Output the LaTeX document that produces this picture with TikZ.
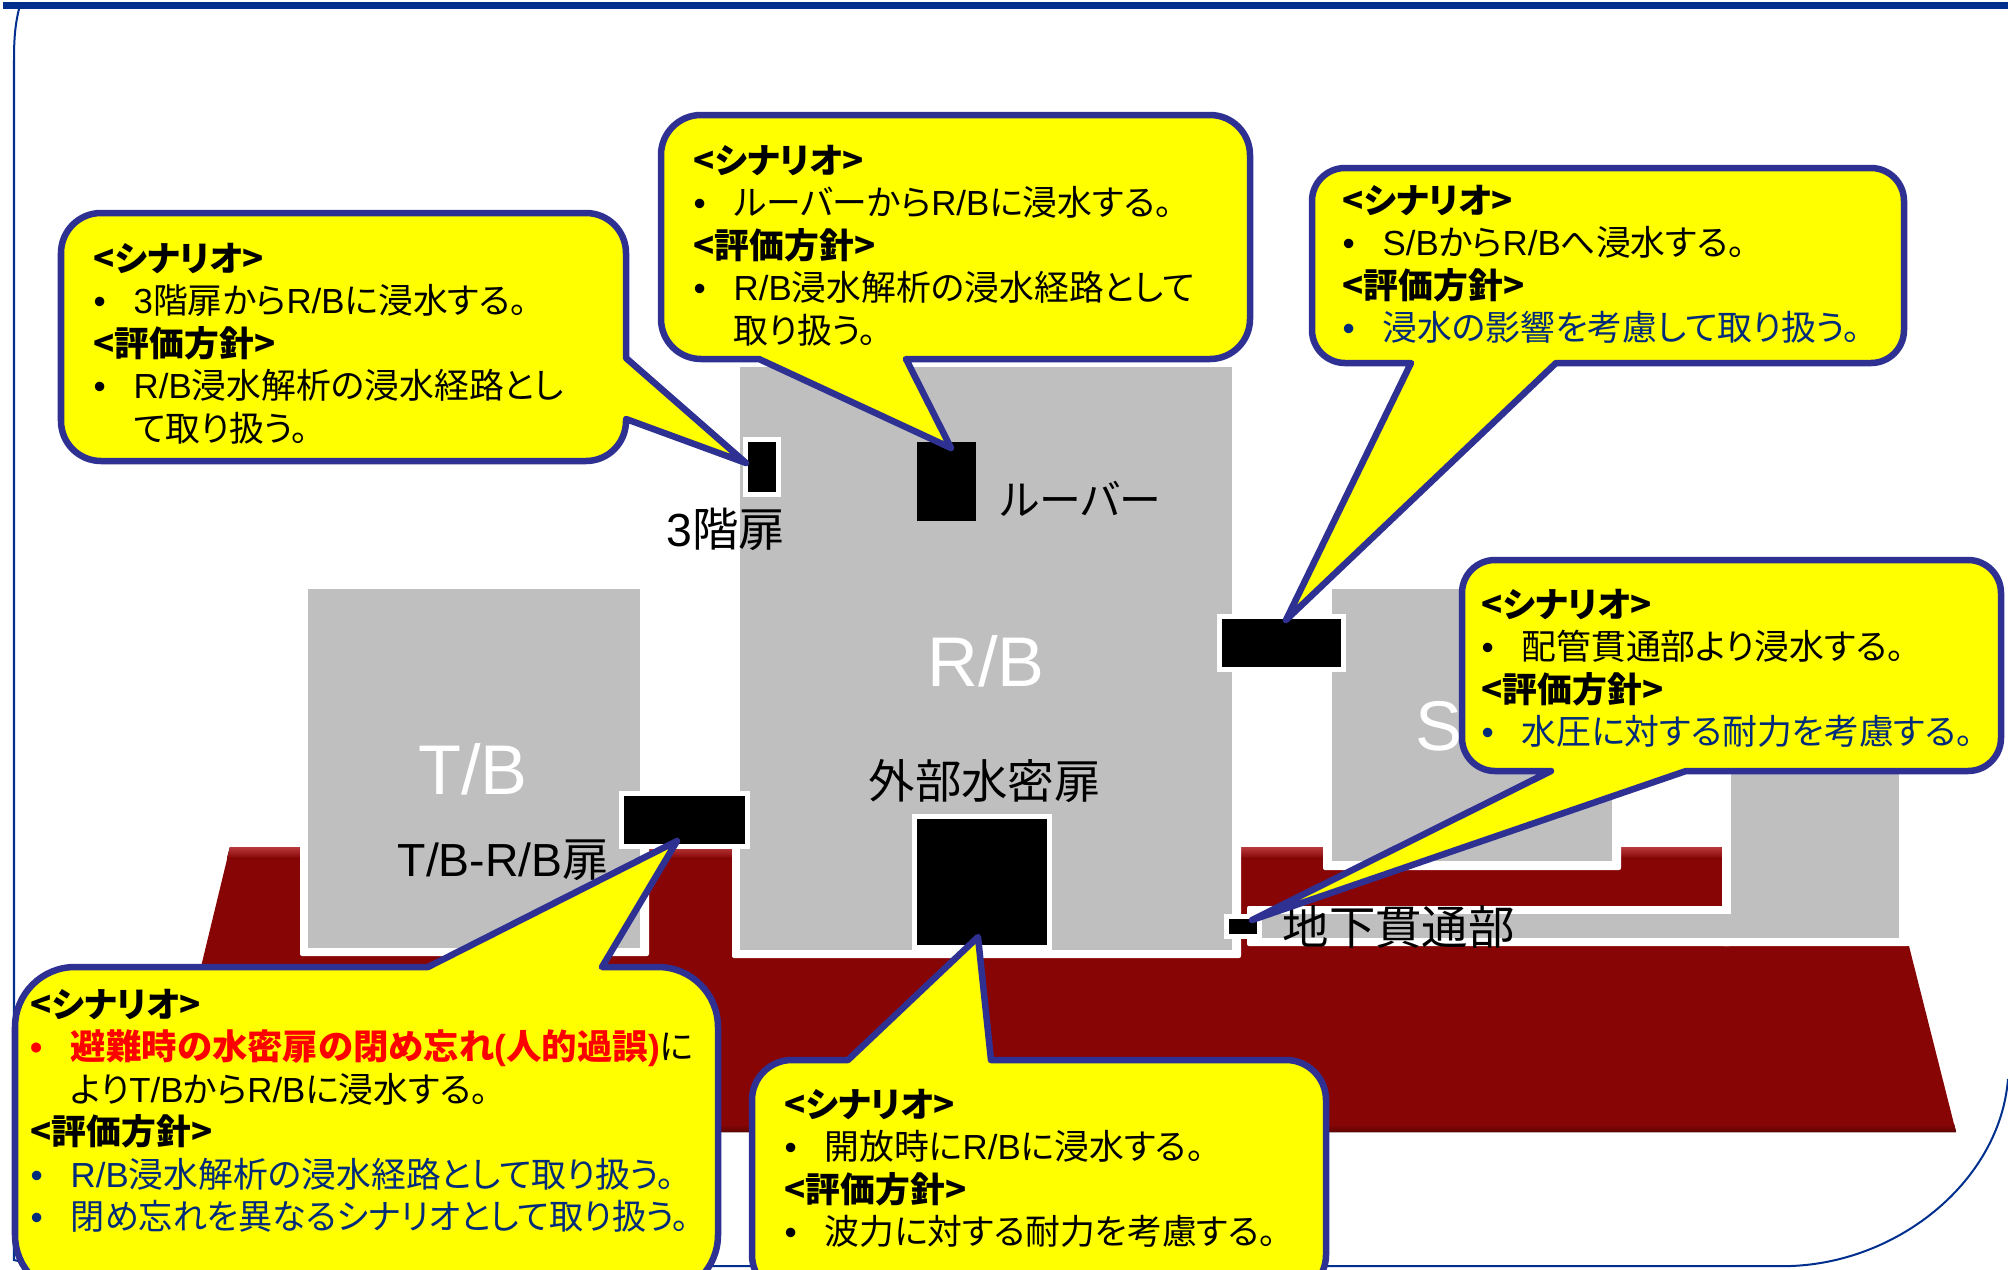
\documentclass[tikz,border=0pt]{standalone}
\usepackage{fontspec}
\setmainfont[RawFeature={+palt}]{Noto Sans CJK JP}
\newfontfamily\latfont{Liberation Sans}
\newcommand{\lat}[1]{{\latfont #1}}
\newcommand{\hdr}[1]{\strut\textbf{#1}}
\newcommand{\itm}{\makebox[0.4cm][l]{\lat{•}}}
\newcommand{\cnt}{\hspace*{0.4cm}}
\newcommand{\calltxtfont}{\fontsize{9.9pt}{12.06pt}\selectfont\lineskiplimit=-10pt\relax}
\definecolor{framecol}{HTML}{002F8E}
\definecolor{basecol}{HTML}{880505}
\definecolor{topcol}{HTML}{B8393C}
\definecolor{bldgcol}{HTML}{BFBFBF}
\definecolor{edgecol}{HTML}{2E3192}
\definecolor{navytxt}{HTML}{002A7A}
\definecolor{callcol}{HTML}{FFFF00}
\tikzset{
  bldg/.style={fill=bldgcol},
  notch/.style={fill=white, rounded corners=0.02cm},
  door/.style={fill=black, draw=white, line width=0.05cm, inner sep=0pt},
  callout/.style={fill=callcol, draw=edgecol, line width=0.065cm, line join=round},
  calltxt/.style={anchor=north west, inner sep=0pt, align=left, font=\calltxtfont},
  biglabel/.style={white, inner sep=0pt, font=\latfont\fontsize{20pt}{22pt}\selectfont},
  doorlabel/.style={inner sep=0pt, anchor=west, font=\fontsize{13.2pt}{15pt}\selectfont},
}
\begin{document}
\begin{tikzpicture}[x=0.01cm, y=-0.01cm]
\path [use as bounding box, clip] (0,0) rectangle (2008,1269);

% frame
\fill [framecol] (3,2) rectangle (2008,9);
\draw [framecol, line width=0.02cm] (19,9) .. controls (15,25) and (14,40) .. (14,60) -- (14,1260) -- (40,1266) -- (1791,1266) .. controls (1900,1262) and (2000,1180) .. (2008,1079);

% ground
\fill [basecol] (161,1132) -- (230,847) -- (1722,847) -- (1722,946) -- (1909,946) -- (1956,1132) -- cycle;
\fill [top color=topcol, bottom color=basecol] (230,847) -- (1722,847) -- (1722,858) -- (227,858) -- cycle;
\fill [bottom color=basecol!70!black, top color=basecol] (163,1124) -- (1954,1124) -- (1956,1132) -- (161,1132) -- cycle;

% white notches round the buildings
\fill [notch] (300,800) rectangle (649,956);
\fill [notch] (732,800) rectangle (1241,958);
\fill [notch] (1323,800) rectangle (1621,870);
\fill [notch] (1247,906) rectangle (1731,946);
\fill [notch] (1722,700) rectangle (1909,946);

% buildings
\fill [bldg] (308,589) rectangle (640,948);
\fill [bldg] (740,367) rectangle (1232,950);
\fill [bldg] (1332,589) rectangle (1612,861);
\fill [bldg] (1731,700) rectangle (1899,938);
\fill [bldg] (1261,914) rectangle (1899,938);

\node [biglabel] (tblabel) at (473,769) {T/B};
\node [biglabel] (rblabel) at (986,661) {R/B};
\node [biglabel, anchor=west] (sblabel) at (1415,726) {S};

% doors
\node [door, minimum width=0.33cm, minimum height=0.55cm] (door3f) at (762,467) {};
\node [door, draw=none, minimum width=0.59cm, minimum height=0.79cm] (doorlouver) at (946.5,481.5) {};
\node [door, minimum width=1.245cm, minimum height=0.53cm] (doorsb) at (1281.5,643) {};
\node [door, minimum width=1.26cm, minimum height=0.53cm] (doortb) at (684.5,820) {};
\node [door, minimum width=1.35cm, minimum height=1.31cm] (doorext) at (982,882) {};
\node [door, minimum width=0.33cm, minimum height=0.2cm] (doorpipe) at (1243,926) {};

\node [doorlabel] (lab3f) at (666,529) {\lat{3}階扉};
\node [doorlabel, font=\fontsize{11.9pt}{14pt}\selectfont] (lablouver) at (1000,499) {ルーバー};
\node [doorlabel] (labtb) at (397,860) {\lat{T/B-R/B}扉};
\node [doorlabel] (labext) at (868,781) {外部水密扉};
\node [doorlabel] (labpipe) at (1282,927) {地下貫通部};

% callouts
\coordinate (tipA) at (746,463);
\coordinate (tipB) at (951,448);
\coordinate (tipC) at (1286,620);
\coordinate (tipD) at (1252,920);
\coordinate (tipE) at (677,841);
\coordinate (tipF) at (978,937);

\draw [callout] (626,358) [sharp corners] -- (tipA) -- (626,419) [rounded corners=0.4cm] -- (626,461) -- (61,461) -- (61,213) -- (626,213) [sharp corners] -- cycle;
\node [calltxt] (txtA) at (93,241) {\hdr{<シナリオ>}\\
\itm\lat{3}階扉から\lat{R/B}に浸水する。\\
\hdr{<評価方針>}\\
\itm\lat{R/B}浸水解析の浸水経路とし\\
\cnt て取り扱う。};

\draw [callout] (759,359) [sharp corners] -- (tipB) -- (906,359) [rounded corners=0.4cm] -- (1250,359) -- (1250,115) -- (661,115) -- (661,359) [sharp corners] -- cycle;
\node [calltxt] (txtB) at (693,143) {\hdr{<シナリオ>}\\
\itm ルーバーから\lat{R/B}に浸水する。\\
\hdr{<評価方針>}\\
\itm\lat{R/B}浸水解析の浸水経路として\\
\cnt 取り扱う。};

\draw [callout] (1411,363) [sharp corners] -- (tipC) -- (1556,363) [rounded corners=0.33cm] -- (1904,363) -- (1904,168) -- (1312,168) -- (1312,363) [sharp corners] -- cycle;
\node [calltxt] (txtC) at (1342,183) {\hdr{<シナリオ>}\\
\itm\lat{S/B}から\lat{R/B}へ浸水する。\\
\hdr{<評価方針>}\\
{\color{navytxt}\itm 浸水の影響を考慮して取り扱う。}};

\draw [callout] (1551,771) [sharp corners] -- (tipD) -- (1686,771) [rounded corners=0.33cm] -- (2001,771) -- (2001,560) -- (1462,560) -- (1462,771) [sharp corners] -- cycle;
\node [calltxt] (txtD) at (1481,587) {\hdr{<シナリオ>}\\
\itm 配管貫通部より浸水する。\\
\hdr{<評価方針>}\\
{\color{navytxt}\itm 水圧に対する耐力を考慮する。}};

\draw [callout] (602,967) [sharp corners] -- (tipE) -- (428,967) [rounded corners=0.6cm] -- (15,967) -- (15,1295) -- (718,1295) -- (718,967) [sharp corners] -- cycle;
\node [calltxt] (txtE) at (30,987) {\hdr{<シナリオ>}\\
{\color{red}\bfseries\itm\scalebox{1.018}[1]{避難時の水密扉の閉め忘れ\lat{(}人的過誤\lat{)}}}に\\
\cnt より\lat{T/B}から\lat{R/B}に浸水する。\\
\hdr{<評価方針>}\\
{\color{navytxt}\itm\lat{R/B}浸水解析の浸水経路として取り扱う。}\\
{\color{navytxt}\itm\scalebox{0.98}[1]{閉め忘れを異なるシナリオとして取り扱う。}}};

\draw [callout] (848,1060) [sharp corners] -- (tipF) -- (991,1060) [rounded corners=0.4cm] -- (1326,1060) -- (1326,1295) -- (752,1295) -- (752,1060) [sharp corners] -- cycle;
\node [calltxt] (txtF) at (784,1087) {\hdr{<シナリオ>}\\
\itm 開放時に\lat{R/B}に浸水する。\\
\hdr{<評価方針>}\\
\itm 波力に対する耐力を考慮する。};

\end{tikzpicture}
\end{document}
